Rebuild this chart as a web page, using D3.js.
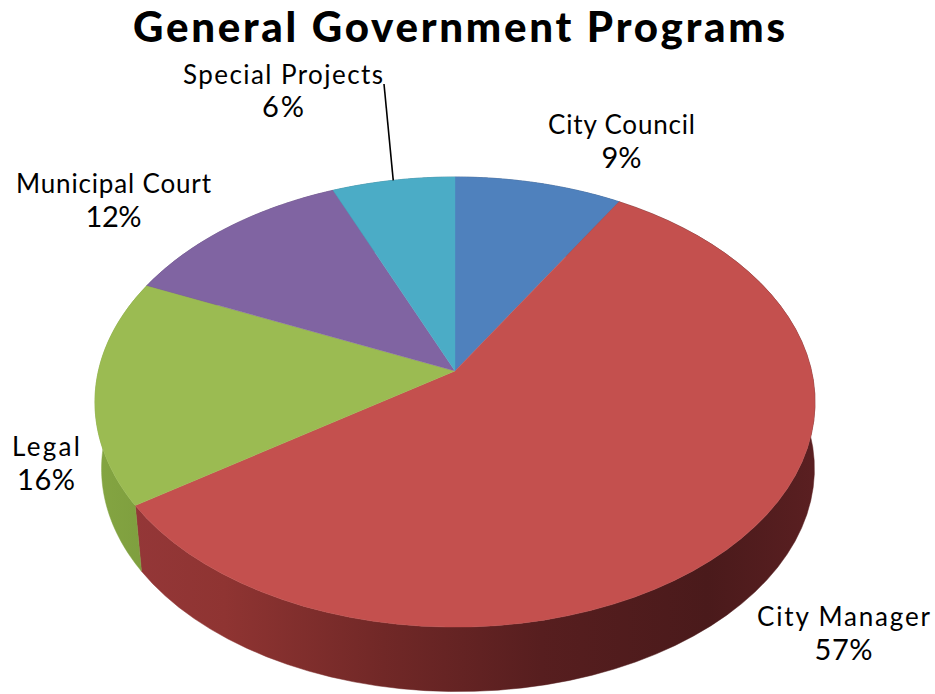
<!DOCTYPE html>
<html><head><meta charset="utf-8">
<script src="https://cdnjs.cloudflare.com/ajax/libs/d3/7.8.5/d3.min.js"></script>
<style>html,body{margin:0;padding:0;background:#fff}svg{display:block}</style>
</head><body><svg id="c" width="935" height="694"></svg>
<script>
const categories = ["City Council","City Manager","Legal","Municipal Court","Special Projects"];
const values = [8.6,56.9,16.2,12.0,6.3];
const titleText = "General Government Programs";
const topColors = ["#4f81bd","#c4504e","#9bbb52","#8064a2","#4bacc6"];

const svg=d3.select("#c");
const apex={x:455,y:371},A=356.6,B=220.8,k=0.138,depth=67,bottomScale=0.99,bottomShift=3;
const fontF="Lato, 'Open Sans', sans-serif";

// perspective projection of a unit-circle point at pie angle t
function proj(t,s=1,dx=0,dy=0){
  const X=Math.sin(t),Y=-Math.cos(t),d=1-k*Y;
  return [apex.x+s*A*X/d+dx, apex.y+B*Y/d*s+dy];
}
const arcs=d3.pie().sort(null).value(d=>d)(values);
const rim=(a,b,s,dx,dy)=>d3.range(0,61).map(i=>proj(a+(b-a)*i/60,s,dx,dy));
const line=d3.line();

const defs=svg.append("defs");
function sideGrad(id,stops){
  const g=defs.append("linearGradient").attr("id",id).attr("gradientUnits","userSpaceOnUse")
    .attr("x1",95).attr("x2",815).attr("y1",0).attr("y2",0);
  stops.forEach(s=>g.append("stop").attr("offset",s[0]).attr("stop-color",s[1]));
}
sideGrad("s0",[[0,"#3a5a85"],[1,"#2f4a70"]]);
sideGrad("s1",[[0,"#96383a"],[0.18,"#8f3432"],[0.4,"#712827"],[0.62,"#571e1f"],[0.85,"#4a1a1b"],[1,"#5a1f21"]]);
sideGrad("s2",[[0,"#84a542"],[0.1,"#7c9c3d"],[1,"#6a8a33"]]);
sideGrad("s3",[[0,"#5b4775"],[1,"#5b4775"]]);
sideGrad("s4",[[0,"#35798c"],[1,"#35798c"]]);

// side walls, then the top faces over them
const g=svg.append("g");
arcs.forEach((d,i)=>{
  const pts=rim(d.startAngle,d.endAngle,1,0,0).concat(rim(d.startAngle,d.endAngle,bottomScale,bottomShift,depth).reverse());
  g.append("path").attr("d",line(pts)+"Z").attr("fill",`url(#s${i})`).attr("stroke",`url(#s${i})`).attr("stroke-width",0.5);
});
arcs.forEach((d,i)=>{
  const pts=[[apex.x,apex.y]].concat(rim(d.startAngle,d.endAngle,1,0,0));
  g.append("path").attr("d",line(pts)+"Z").attr("fill",topColors[i]).attr("stroke",topColors[i]).attr("stroke-width",0.4);
});

// leader line for Special Projects, ending on its slice's rim
const sp=arcs[4],spEnd=proj((sp.startAngle+sp.endAngle)/2);
svg.append("path").attr("d",line([[384,84],spEnd])).attr("stroke","#000").attr("stroke-width",1.6).attr("fill","none");

// text
function txt(s,x,y,size,w,weight){
  const t=svg.append("text").attr("x",x).attr("y",y).attr("text-anchor","middle")
    .attr("font-family",fontF).attr("font-size",size).attr("font-weight",weight||400).attr("fill","#000").text(s);
  if(w) t.attr("textLength",w).attr("lengthAdjust","spacing");
}
txt(titleText,459,42,42,652,900);
const labelLayout=[
  {cx:621.5,y1:134,y2:168,w:147,pw:40},
  {cx:843.5,y1:626,y2:660,w:173,pw:58},
  {cx:46,y1:456,y2:490,w:68,pw:58},
  {cx:113.5,y1:193,y2:227,w:195,pw:56},
  {cx:283,y1:84,y2:117,w:200,pw:42}
];
categories.forEach((c,i)=>{
  const l=labelLayout[i];
  txt(c,l.cx,l.y1,26,l.w);
  txt(Math.round(values[i])+"%",l.cx,l.y2,29,l.pw);
});
</script></body></html>
